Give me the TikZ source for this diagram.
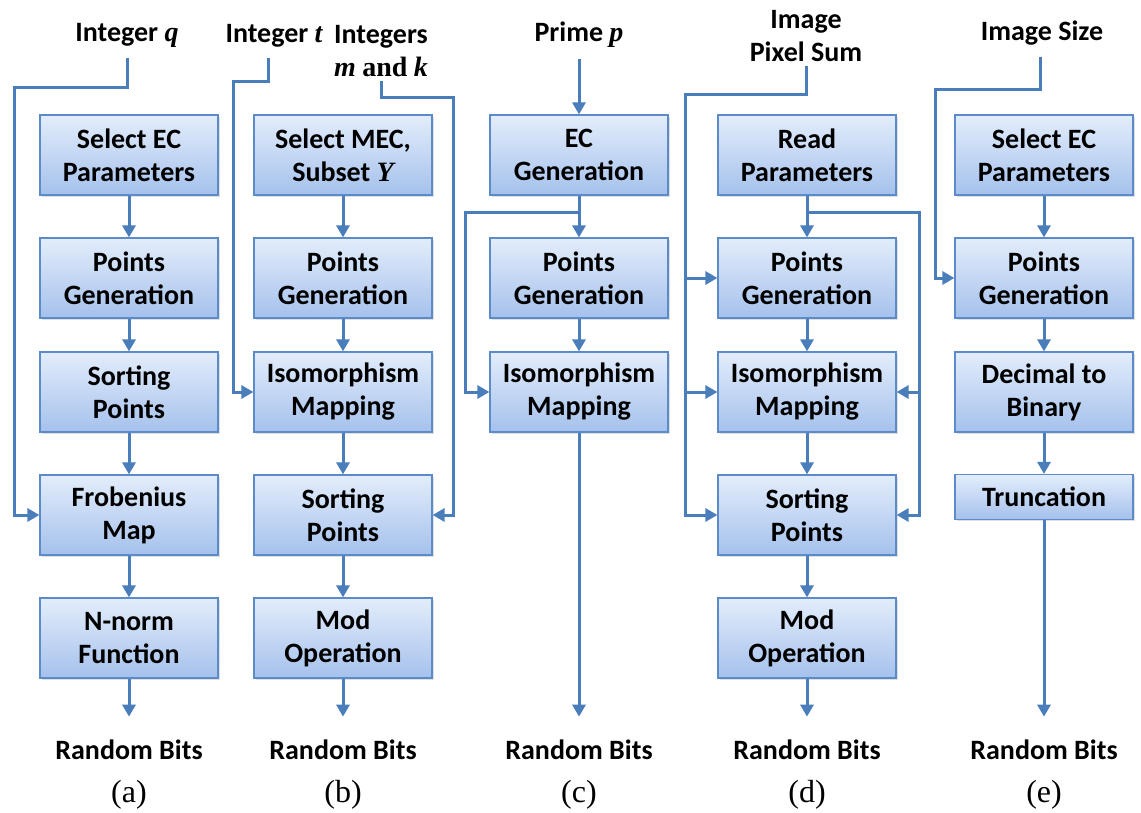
\documentclass[tikz,border=0pt]{standalone}
\usepackage{fontspec}
\setmainfont{Carlito}
\newfontfamily\serifmath{Liberation Serif}
\usetikzlibrary{arrows.meta,positioning,calc,shadows}
\definecolor{flowline}{HTML}{4A7EBB}
\definecolor{boxtop}{HTML}{E3EDFB}
\definecolor{boxbot}{HTML}{A5C1EC}
\definecolor{boxedge}{HTML}{5B8BC9}
\newcommand{\mv}[1]{{\serifmath\bfseries\itshape #1}}

\begin{document}
\begin{tikzpicture}[x=0.5pt,y=-0.5pt,
  blk/.style={draw=boxedge,line width=0.6pt,top color=boxtop,bottom color=boxbot,
    minimum width=89pt,minimum height=40pt,inner sep=0pt,align=center,
    font=\fontsize{14}{16.5}\selectfont\bfseries,
    drop shadow={opacity=0.25,shadow xshift=0.8pt,shadow yshift=-0.8pt}},
  lbl/.style={font=\fontsize{14}{16.5}\selectfont\bfseries,align=center,inner sep=2pt},
  subcap/.style={font=\serifmath\fontsize{16}{18}\selectfont},
  wire/.style={flowline,line width=1.5pt},
  flow/.style={wire,-{Triangle[length=6pt,width=6.5pt]}}]
  \useasboundingbox (0,0) rectangle (1141,813);

  % (a)
  \node[lbl] (ain) at (127,35) {Integer \mv{q}};
  \node[blk] (a1) at (129,155) {Select EC\\Parameters};
  \node[blk] (a2) at (129,278) {Points\\Generation};
  \node[blk] (a3) at (129,392) {Sorting\\Points};
  \node[blk] (a4) at (129,515) {Frobenius\\Map};
  \node[blk] (a5) at (129,638) {N-norm\\Function};

  % (b)
  \node[lbl] (tin) at (274,36) {Integer \mv{t}};
  \node[lbl] (mkin) at (381,51) {Integers\\\mv{m} {\serifmath\bfseries and} \mv{k}};
  \node[blk] (b1) at (343,155) {Select MEC,\\Subset \mv{Y}};
  \node[blk] (b2) at (343,278) {Points\\Generation};
  \node[blk] (b3) at (343,392) {Isomorphism\\Mapping};
  \node[blk] (b4) at (343,515) {Sorting\\Points};
  \node[blk] (b5) at (343,638) {Mod\\Operation};

  % (c)
  \node[lbl] (pin) at (579,35) {Prime \mv{p}};
  \node[blk] (c1) at (579,155) {EC\\Generation};
  \node[blk] (c2) at (579,278) {Points\\Generation};
  \node[blk] (c3) at (579,392) {Isomorphism\\Mapping};

  % (d)
  \node[lbl] (din) at (806,36) {Image\\Pixel Sum};
  \node[blk] (d1) at (807,155) {Read\\Parameters};
  \node[blk] (d2) at (807,278) {Points\\Generation};
  \node[blk] (d3) at (807,392) {Isomorphism\\Mapping};
  \node[blk] (d4) at (807,515) {Sorting\\Points};
  \node[blk] (d5) at (807,638) {Mod\\Operation};

  % (e)
  \node[lbl] (ein) at (1042,33) {Image Size};
  \node[blk] (e1) at (1044,155) {Select EC\\Parameters};
  \node[blk] (e2) at (1044,278) {Points\\Generation};
  \node[blk] (e3) at (1044,392) {Decimal to\\Binary};
  \node[blk,minimum height=22.5pt] (e4) at (1044,497) {Truncation};

  \foreach \c/\x in {a/129,b/343,c/579,d/807,e/1044} {
    \node[lbl] (\c out) at (\x,750) {Random Bits};
    \node[subcap] (\c cap) at (\x,795) {(\c)};
  }

  % straight steps
  \foreach \i/\j in {a1/a2,a2/a3,a3/a4,a4/a5,b1/b2,b2/b3,b3/b4,b4/b5,
                     c1/c2,c2/c3,d1/d2,d2/d3,d3/d4,d4/d5,e1/e2,e2/e3,e3/e4}
    \draw[flow] (\i) -- (\j);
  \foreach \i/\j in {a5/aout,b5/bout,c3/cout,d5/dout,e4/eout}
    \draw[flow,shorten >=9.5pt] (\i) -- (\j.north);
  \draw[flow,shorten <=3.5pt] (pin) -- (c1);

  % side feeds
  \coordinate (qturn) at (14,88);
  \draw[flow,shorten <=3.5pt] (ain.south) |- (qturn) |- (a4.west);
  \coordinate (tturn) at (233,82);
  \draw[flow,shorten <=3pt] ([xshift=-3pt]tin.south) |- (tturn) |- (b3.west);
  \coordinate (mkturn) at (453,98);
  \draw[flow] (mkin.south) |- (mkturn) |- (b4.east);
  \coordinate (cfork) at (465,212);
  \draw[flow] (c1.south) |- (cfork) |- (c3.west);
  \coordinate (dleft) at (685,95);
  \draw[flow] (din.south) |- (dleft) |- (d4.west);
  \draw[flow] (dleft |- d2.west) -- (d2.west);
  \draw[flow] (dleft |- d3.west) -- (d3.west);
  \coordinate (dright) at (919,212);
  \draw[flow] (d1.south) |- (dright) |- (d4.east);
  \draw[flow] (dright |- d3.east) -- (d3.east);
  \coordinate (eturn) at (935,90);
  \draw[flow,shorten <=3.5pt] ([xshift=-1pt]ein.south) |- (eturn) |- (e2.west);
\end{tikzpicture}
\end{document}
